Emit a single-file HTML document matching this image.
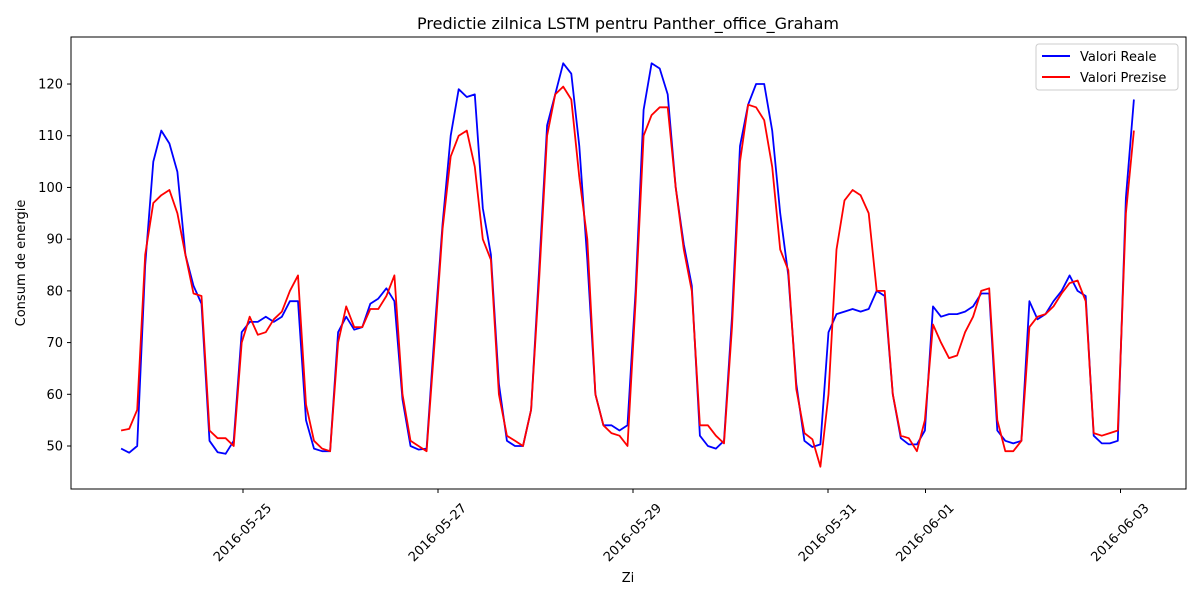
<!DOCTYPE html>
<html><head><meta charset="utf-8"><style>
body{margin:0;background:#fff;font-family:"Liberation Sans","DejaVu Sans",sans-serif}
svg text{font-family:"DejaVu Sans","Liberation Sans",sans-serif}
</style></head><body>
<svg id="chart" width="1200" height="600" xmlns="http://www.w3.org/2000/svg">
<rect width="1200" height="600" fill="#fff"/>
<text x="628" y="29" font-size="16" text-anchor="middle">Predictie zilnica LSTM pentru Panther_office_Graham</text>
<g id="ticks"></g>
<g id="series"></g>
<rect x="71" y="37" width="1115" height="452" fill="none" stroke="#000" stroke-width="1"/>
<text x="628" y="582" font-size="13" text-anchor="middle">Zi</text>
<text transform="translate(25,263) rotate(-90)" font-size="13" text-anchor="middle">Consum de energie</text>
<g>
<rect x="1036" y="44" width="142" height="46" rx="3" fill="#fff" stroke="#ccc"/>
<line x1="1042" y1="56" x2="1070" y2="56" stroke="#0000ff" stroke-width="2"/>
<text x="1080" y="61" font-size="13">Valori Reale</text>
<line x1="1042" y1="77" x2="1070" y2="77" stroke="#ff0000" stroke-width="2"/>
<text x="1080" y="82" font-size="13">Valori Prezise</text>
</g>
</svg>
<script>
const startHour = -30; // hours relative to 2016-05-25 00:00
const endHour = 219.3;
const realValues = [49.5,48.7,50,85,105,111,108.5,103,87,81,77.5,51,48.8,48.5,51,72,74,74,75,74,75,78,78,55,49.5,49,49,72,75,72.5,73,77.5,78.5,80.5,78,59,50,49.3,49.5,72,93,110,119,117.5,118,96,87,62,51,50,50,57,84,112,118,124,122,108,86,60,54,54,53,54,80,115,124,123,118,100,89,81,52,50,49.5,51,75,108,116,120,120,111,95,83,62,51,49.8,50.3,72,75.5,76,76.5,76,76.5,80,79,60,51.5,50.3,50.3,53,77,75,75.5,75.5,76,77,79.5,79.5,53,51,50.5,51,78,74.5,75.5,78,80,83,80,79,52,50.5,50.5,51,98,117];
const predValues = [53,53.3,57,87,97,98.5,99.5,95,87,79.5,79,53,51.5,51.5,50,70,75,71.5,72,74.5,76,80,83,58,51,49.5,49,70,77,73,73,76.5,76.5,79,83,60,51,50,49,70,92,106,110,111,104,90,86,60,52,51,50,57,82,110,118,119.5,117,102,90,60,54,52.5,52,50,78,110,114,115.5,115.5,100,88,80,54,54,52,50.5,73,105,116,115.5,113,104,88,84,61,52.5,51.3,46,60,88,97.5,99.5,98.5,95,80,80,60,52,51.5,49,55,73.5,70,67,67.5,72,75,80,80.5,55,49,49,51,73,75,75.5,77,79.5,81.5,82,78,52.5,52,52.5,53,95,111];
const yTicks = [50,60,70,80,90,100,110,120];
const xTickHours = [0,48,96,144,168,216];
const xTickLabels = ["2016-05-25","2016-05-27","2016-05-29","2016-05-31","2016-06-01","2016-06-03"];

const NS = "http://www.w3.org/2000/svg";
function xScale(h){ return 243 + h * 97.5 / 24; }
function yScale(v){ return 446 - (v - 50) * 5.171; }
function mk(tag, attrs, parent){ const e=document.createElementNS(NS,tag); for(const k in attrs) e.setAttribute(k,attrs[k]); parent.appendChild(e); return e; }

const ticks = document.getElementById('ticks');
yTicks.forEach(v=>{
  const y=yScale(v);
  const l=mk('line',{x1:67,x2:71,y1:y,y2:y,stroke:'#000'},ticks);
  
  
  const t=mk('text',{x:63,y:y+4.5,'font-size':13,'text-anchor':'end'},ticks);
  t.textContent=v;
  
  
});
xTickHours.forEach((h,i)=>{
  const x=xScale(h);
  const l=mk('line',{x1:x,x2:x,y1:489,y2:493,stroke:'#000'},ticks);
  
  
  const t=mk('text',{transform:`translate(${x},${533}) rotate(-45)`,'font-size':13,'text-anchor':'middle','dominant-baseline':'middle'},ticks);
  t.textContent=xTickLabels[i];
  
  
});
const series=document.getElementById('series');
function drawLine(vals,color,name){
  const step=(endHour-startHour)/(vals.length-1);
  const pts=vals.map((v,i)=>xScale(startHour+i*step).toFixed(1)+','+yScale(v).toFixed(1)).join(' ');
  const p=mk('polyline',{points:pts,fill:'none',stroke:color,'stroke-width':1.8,'stroke-linejoin':'round'},series);
  
  
}
drawLine(realValues,'#0000ff','series-valori-reale');
drawLine(predValues,'#ff0000','series-valori-prezise');
</script>
</body></html>
